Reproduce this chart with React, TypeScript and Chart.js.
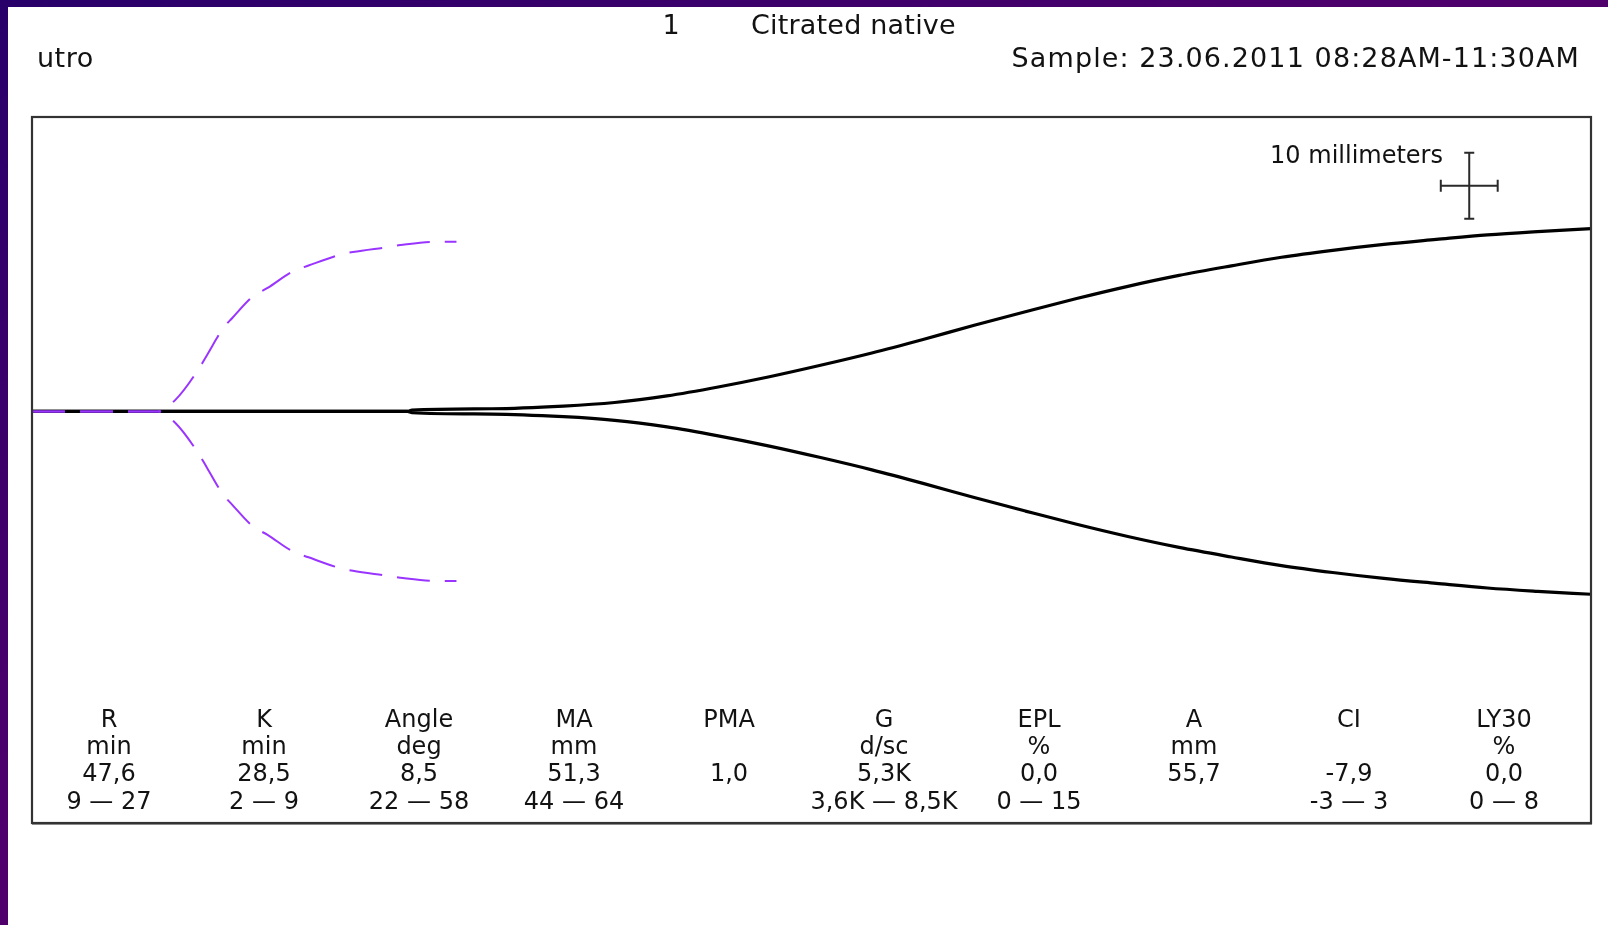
import React, { useEffect, useRef } from "react";
import { Chart, registerables } from "chart.js";

Chart.register(...registerables);

// ---- data ----
// Sample trace: time (min) and total amplitude (mm)
const TIME_MIN = [0, 33.0, 33.4, 40.4, 46.7, 51.2, 55.8, 60.3, 64.8, 69.2, 73.8, 78.3, 82.8, 87.3, 91.8, 96.3, 100.8, 105.4, 109.8, 114.3, 118.8, 123.4, 127.9, 132.3, 137];
const AMPLITUDE_MM = [0, 0, 0.4, 0.8, 1.6, 2.7, 4.7, 7.4, 10.5, 13.9, 17.7, 21.8, 26.1, 30.2, 34.2, 37.9, 41.2, 44.1, 46.7, 48.8, 50.6, 52.1, 53.5, 54.5, 55.4];

// Reference (normal) trace, dashed violet
const REF_TIME_MIN = [0, 11.0, 12.6, 14.6, 15.4, 16.8, 17.6, 19.4, 20.7, 22.9, 24.3, 27.1, 28.2, 31.3, 32.6, 35.6, 37.3];
const REF_AMPLITUDE_MM = [0, 0, 3.5, 12.6, 17.2, 25.2, 28.3, 34.8, 37.4, 42.4, 44.2, 47.5, 48.3, 49.8, 50.5, 51.4, 51.4];

// Parameter table
const PARAM_NAMES = ["R", "K", "Angle", "MA", "PMA", "G", "EPL", "A", "CI", "LY30"];
const PARAM_UNITS = ["min", "min", "deg", "mm", "", "d/sc", "%", "mm", "", "%"];
const PARAM_VALUES = ["47,6", "28,5", "8,5", "51,3", "1,0", "5,3K", "0,0", "55,7", "-7,9", "0,0"];
const PARAM_RANGES = ["9 — 27", "2 — 9", "22 — 58", "44 — 64", "", "3,6K — 8,5K", "0 — 15", "", "-3 — 3", "0 — 8"];

// Header texts
const HEADER_CHANNEL = "1";
const HEADER_SAMPLE_TYPE = "Citrated native";
const HEADER_PATIENT = "utro";
const HEADER_SAMPLE_TIME = "Sample: 23.06.2011 08:28AM-11:30AM";
const SCALE_LABEL = "10 millimeters";

// Axis ranges
const X_MIN = 0;
const X_MAX = 137;
const Y_MIN = -62.35;
const Y_MAX = 44.6;

// Scale bar: 10 mm vertical, 5 min horizontal (10 mm at 2 mm/min)
const BAR_CENTER_T = 126.3;
const BAR_CENTER_MM = 34.2;
const BAR_LEN_MM = 10;
const BAR_LEN_MIN = 5;

const FONT = '"DejaVu Sans", Verdana, sans-serif';

const frameAndBarPlugin = {
  id: "frameAndBar",
  afterDatasetsDraw(chart: any) {
    const { ctx, chartArea, scales } = chart;
    const x = scales.x;
    const y = scales.y;
    ctx.save();
    // scale bar
    const cx = x.getPixelForValue(BAR_CENTER_T);
    const cy = y.getPixelForValue(BAR_CENTER_MM);
    const top = y.getPixelForValue(BAR_CENTER_MM + BAR_LEN_MM / 2);
    const bottom = y.getPixelForValue(BAR_CENTER_MM - BAR_LEN_MM / 2);
    const left = x.getPixelForValue(BAR_CENTER_T - BAR_LEN_MIN / 2);
    const right = x.getPixelForValue(BAR_CENTER_T + BAR_LEN_MIN / 2);
    ctx.strokeStyle = "#2a2a2a";
    ctx.lineWidth = 2;
    ctx.beginPath();
    ctx.moveTo(cx, top);
    ctx.lineTo(cx, bottom);
    ctx.moveTo(left, cy);
    ctx.lineTo(right, cy);
    ctx.moveTo(cx - 5, top);
    ctx.lineTo(cx + 5, top);
    ctx.moveTo(cx - 5, bottom);
    ctx.lineTo(cx + 5, bottom);
    ctx.moveTo(left, cy - 6);
    ctx.lineTo(left, cy + 6);
    ctx.moveTo(right, cy - 6);
    ctx.lineTo(right, cy + 6);
    ctx.stroke();
    // frame
    ctx.strokeStyle = "#333333";
    ctx.lineWidth = 2.2;
    ctx.strokeRect(chartArea.left, chartArea.top, chartArea.right - chartArea.left, chartArea.bottom - chartArea.top);
    ctx.strokeStyle = "#8a8a8a";
    ctx.lineWidth = 1;
    ctx.beginPath();
    ctx.moveTo(chartArea.left, chartArea.bottom + 1.5);
    ctx.lineTo(chartArea.right + 1, chartArea.bottom + 1.5);
    ctx.stroke();
    ctx.restore();
  },
};

function Text(props: { x: number; baseline: number; size: number; align?: "left" | "center" | "right"; spacing?: number; children: React.ReactNode }) {
  const { x, baseline, size, align = "left", spacing = 0, children } = props;
  const shift = align === "center" ? "-50%" : align === "right" ? "-100%" : "0";
  return (
    <div
      style={{
        position: "absolute",
        left: x,
        top: baseline - 0.846 * size,
        fontFamily: FONT,
        fontSize: size,
        lineHeight: `${size}px`,
        letterSpacing: spacing,
        whiteSpace: "nowrap",
        color: "#121212",
        transform: `translateX(${shift})`,
      }}
    >
      {children}
    </div>
  );
}

export default function App() {
  const canvasRef = useRef<HTMLCanvasElement | null>(null);

  useEffect(() => {
    const canvas = canvasRef.current;
    if (!canvas) return;
    const upper = TIME_MIN.map((t, i) => ({ x: t, y: AMPLITUDE_MM[i] / 2 }));
    const lower = TIME_MIN.map((t, i) => ({ x: t, y: -AMPLITUDE_MM[i] / 2 }));
    const refUpper = REF_TIME_MIN.map((t, i) => ({ x: t, y: REF_AMPLITUDE_MM[i] / 2 }));
    const refLower = REF_TIME_MIN.map((t, i) => ({ x: t, y: -REF_AMPLITUDE_MM[i] / 2 }));

    const common = {
      pointRadius: 0,
      fill: false,
      cubicInterpolationMode: "monotone" as const,
    };

    const chart = new Chart(canvas, {
      type: "line",
      data: {
        datasets: [
          { ...common, label: "Sample upper", data: upper, borderColor: "#000000", borderWidth: 3.2, order: 2 },
          { ...common, label: "Sample lower", data: lower, borderColor: "#000000", borderWidth: 3.2, order: 2 },
          { ...common, label: "Reference upper", data: refUpper, borderColor: "#9a35ff", borderWidth: 2, borderDash: [33, 15], order: 1 },
          { ...common, label: "Reference lower", data: refLower, borderColor: "#9a35ff", borderWidth: 2, borderDash: [33, 15], order: 1 },
        ],
      },
      options: {
        animation: false,
        responsive: false,
        maintainAspectRatio: false,
        layout: { padding: { left: 32, top: 117, right: 17, bottom: 102 } },
        scales: {
          x: { type: "linear", min: X_MIN, max: X_MAX, display: false },
          y: { type: "linear", min: Y_MIN, max: Y_MAX, display: false },
        },
        plugins: {
          legend: { display: false },
          tooltip: { enabled: false },
          title: { display: false },
        },
        events: [],
      },
      plugins: [frameAndBarPlugin],
    });
    return () => chart.destroy();
  }, []);

  const colX = (i: number) => 109 + 155 * i;
  const rowBase = [727, 754.3, 781.6, 809];

  return (
    <div
      style={{
        position: "fixed",
        left: 0,
        top: 0,
        width: 1608,
        height: 925,
        overflow: "hidden",
        background: "linear-gradient(to bottom right, #28006a 0%, #4e006c 45%, #5c0064 100%)",
      }}
    >
      <div style={{ position: "absolute", left: 8, top: 7, right: 0, bottom: 0, background: "#ffffff" }} />
      <canvas ref={canvasRef} width={1608} height={925} style={{ position: "absolute", left: 0, top: 0, width: 1608, height: 925 }} />

      <Text x={671} baseline={33.5} size={27} align="center">{HEADER_CHANNEL}</Text>
      <Text x={751} baseline={33.5} size={27} spacing={0.2}>{HEADER_SAMPLE_TYPE}</Text>
      <Text x={37} baseline={66.5} size={27} spacing={0.5}>{HEADER_PATIENT}</Text>
      <Text x={1580} baseline={66.5} size={27} align="right" spacing={1.1}>{HEADER_SAMPLE_TIME}</Text>
      <Text x={1443} baseline={163} size={24} align="right">{SCALE_LABEL}</Text>

      {PARAM_NAMES.map((name, i) => (
        <React.Fragment key={name}>
          <Text x={colX(i)} baseline={rowBase[0]} size={24} align="center">{name}</Text>
          <Text x={colX(i)} baseline={rowBase[1]} size={24} align="center">{PARAM_UNITS[i]}</Text>
          <Text x={colX(i)} baseline={rowBase[2]} size={24} align="center">{PARAM_VALUES[i]}</Text>
          <Text x={colX(i)} baseline={rowBase[3]} size={24} align="center">{PARAM_RANGES[i]}</Text>
        </React.Fragment>
      ))}
    </div>
  );
}
